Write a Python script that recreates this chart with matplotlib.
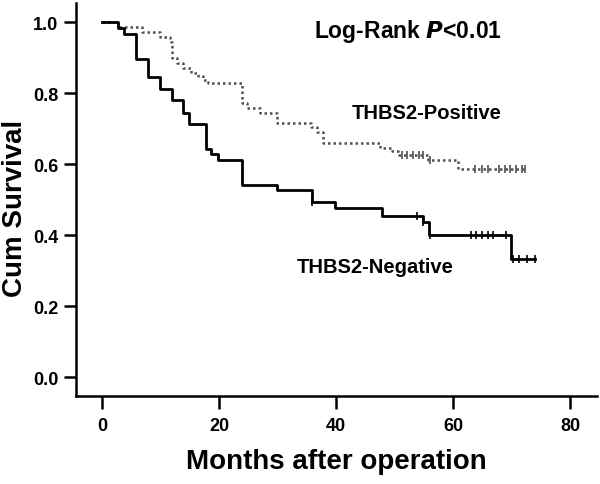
import numpy as np
import matplotlib.pyplot as plt

plt.rcParams['font.family'] = ['Liberation Sans', 'DejaVu Sans']
plt.rcParams['font.weight'] = 'bold'

# THBS2-Negative (solid): step times (months) and survival after each step
neg_time = [0, 2.7, 3.8, 5.9, 7.9, 9.9, 12.0, 13.9, 14.9, 17.8, 18.7, 19.9,
            23.9, 29.9, 35.9, 39.8, 47.9, 54.8, 55.9, 69.9, 74.0]
neg_surv = [1.0, 0.983, 0.966, 0.896, 0.845, 0.81, 0.78, 0.745, 0.713, 0.642,
            0.628, 0.612, 0.541, 0.527, 0.492, 0.475, 0.455, 0.436, 0.40,
            0.332, 0.332]
neg_cens = [35.9, 53.9, 54.8, 56.0, 63.0, 63.9, 64.9, 65.9, 66.9, 69.1,
            70.2, 71.3, 72.7, 74.0]

# THBS2-Positive (dotted)
pos_time = [0, 2.7, 6.9, 9.9, 11.6, 12.0, 12.8, 13.9, 15.3, 16.4, 17.3, 18.1,
            23.9, 24.8, 27.0, 30.0, 35.8, 36.7, 37.8, 47.6, 49.5, 50.6, 55.8,
            60.9, 72.3]
pos_surv = [1.0, 0.985, 0.971, 0.957, 0.943, 0.90, 0.886, 0.871, 0.857,
            0.847, 0.838, 0.828, 0.773, 0.757, 0.744, 0.716, 0.703, 0.689,
            0.658, 0.645, 0.637, 0.626, 0.610, 0.585, 0.585]
pos_cens = [51.3, 52.2, 53.1, 54.1, 54.9, 56.0, 63.8, 64.9, 66.0, 67.9, 68.9,
            69.7, 70.8, 71.7, 72.3]


def cens_y(times, surv, cens):
    idx = np.searchsorted(times, cens, side='right') - 1
    return np.array(surv)[idx]


fig = plt.figure(figsize=(6, 4.85), dpi=100)
ax = fig.add_axes([0.127, 0.181, 0.868, 0.811])

ax.step(pos_time, pos_surv, where='post', color='#505050', lw=1.8,
        linestyle=(0, (1, 1.2)))
ax.plot(pos_cens, cens_y(pos_time, pos_surv, pos_cens), '|', color='#505050',
        ms=6, mew=1.2)

ax.step(neg_time, neg_surv, where='post', color='black', lw=2.0)
ax.plot(neg_cens, cens_y(neg_time, neg_surv, neg_cens), '|', color='black',
        ms=6, mew=1.2)

ax.set_xlim(-4.4, 84.6)
ax.set_ylim(-0.054, 1.054)
ax.set_xticks([0, 20, 40, 60, 80])
ax.set_yticks([0.0, 0.2, 0.4, 0.6, 0.8, 1.0])
ax.set_yticklabels(['0.0', '0.2', '0.4', '0.6', '0.8', '1.0'])
ax.tick_params(length=9, width=1.8, labelsize=13, pad=4)
ax.tick_params(axis='x', pad=6)
for s in ['top', 'right']:
    ax.spines[s].set_visible(False)
for s in ['left', 'bottom']:
    ax.spines[s].set_linewidth(1.8)

ax.set_xlabel('Months after operation', fontsize=20, fontweight='bold',
              labelpad=10)
ax.set_ylabel('Cum Survival', fontsize=20, fontweight='bold', va='center')
ax.yaxis.set_label_coords(-0.118, 0.48)

ax.text(36.3, 0.977, 'Log-Rank $\\bfit{P}$<0.01', fontsize=16.5,
        fontweight='bold', va='center')
ax.text(42.7, 0.746, 'THBS2-Positive', fontsize=14.5, fontweight='bold',
        va='center')
ax.text(33.3, 0.31, 'THBS2-Negative', fontsize=14.5, fontweight='bold',
        va='center')

fig.savefig('out.png', dpi=100)
